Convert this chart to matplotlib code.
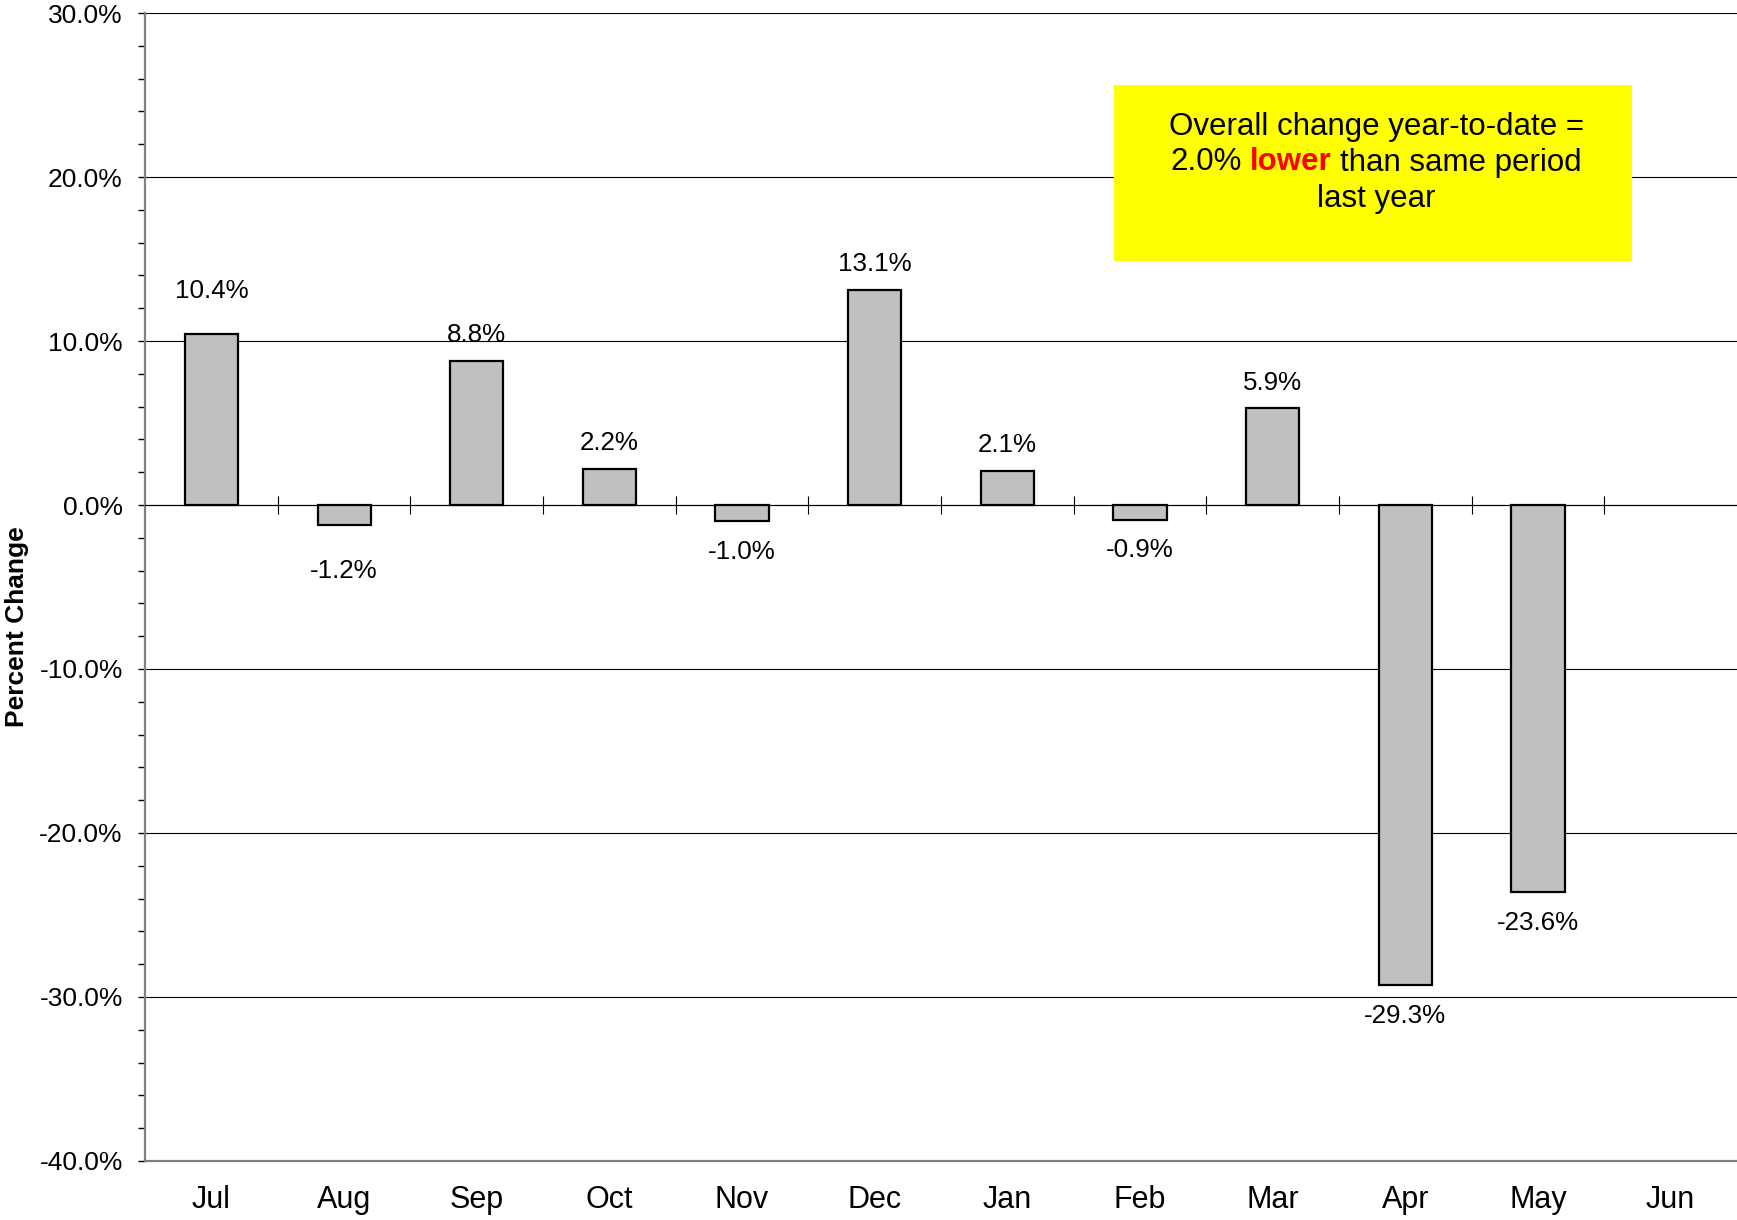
import numpy as np
import matplotlib
matplotlib.use("Agg")
import matplotlib.pyplot as plt
from matplotlib.ticker import MultipleLocator, FuncFormatter
from matplotlib.patches import Rectangle

plt.rcParams['font.family'] = ['Liberation Sans', 'DejaVu Sans']

months = ["Jul", "Aug", "Sep", "Oct", "Nov", "Dec", "Jan", "Feb", "Mar", "Apr", "May", "Jun"]
pct_change = [10.4, -1.2, 8.8, 2.2, -1.0, 13.1, 2.1, -0.9, 5.9, -29.3, -23.6, None]
# a couple of labels sit further from their bar in the original
label_offset = {0: 31.5, 1: 33.5}
note_line1 = "Overall change year-to-date ="
note_line2 = [("2.0%", "black", "normal"), ("lower", "red", "bold"), ("than same period", "black", "normal")]
note_line3 = "last year"

fig = plt.figure(figsize=(17.37, 12.2), dpi=100)
ax = fig.add_axes([0.0835, 0.0484, 0.9165, 0.9409])

x = np.arange(len(months))
vals = [v if v is not None else 0 for v in pct_change]
ax.bar(x[:-1], vals[:-1], width=0.4, color="#C0C0C0", edgecolor="black", linewidth=1.6, zorder=3)

for i, v in enumerate(pct_change):
    if v is None:
        continue
    off = label_offset.get(i, 18.5 if v >= 0 else 22)
    ax.annotate(f"{v:.1f}%", xy=(i, v), xytext=(0, off if v >= 0 else -off),
                textcoords="offset points", ha="center", va="center", fontsize=18.7, zorder=4)

ax.set_xlim(-0.5, len(months) - 0.5)
ax.set_ylim(-40, 30)
ax.yaxis.set_major_locator(MultipleLocator(10))
ax.yaxis.set_minor_locator(MultipleLocator(2))
ax.yaxis.set_major_formatter(FuncFormatter(lambda v, p: f"{v:.1f}%"))
ax.yaxis.grid(True, which="major", color="black", linewidth=0.8)
ax.set_axisbelow(True)

ax.set_xticks(x)
ax.set_xticklabels(months)
ax.set_xticks(x[:-1] + 0.5, minor=True)
ax.tick_params(axis="x", which="major", bottom=True, top=False, length=0, pad=17, labelsize=22)
ax.tick_params(axis="x", which="minor", bottom=False, top=True, direction="inout", length=13, width=0.8)
ax.tick_params(axis="y", which="major", labelsize=19, length=5, width=1, pad=11)
ax.tick_params(axis="y", which="minor", length=5, width=1)

ax.spines["top"].set_position(("data", 0))
ax.spines["top"].set_linewidth(0.8)
ax.spines["right"].set_visible(False)
for s in ("left", "bottom"):
    ax.spines[s].set_color("#808080")
    ax.spines[s].set_linewidth(1.6)

fig.text(0.0098, 0.486, "Percent Change", rotation=90, fontsize=19, fontweight="bold",
         ha="center", va="center")

# yellow note box
fig.patches.append(Rectangle((0.6413, 0.786), 0.298, 0.1443, transform=fig.transFigure,
                             facecolor="yellow", edgecolor="none", zorder=5))
cx = 0.7922
fs = 22.5
fig.text(cx, 1 - 126.5 / 1220, note_line1, fontsize=fs, ha="center", va="center", zorder=6)
fig.text(cx, 1 - 198.5 / 1220, note_line3, fontsize=fs, ha="center", va="center", zorder=6)

renderer = fig.canvas.get_renderer()
y2 = 1 - 162.5 / 1220
pieces = [fig.text(0, y2, t, color=c, fontweight=w, fontsize=fs, ha="left", va="center", zorder=6)
          for t, c, w in note_line2]
probe_a = fig.text(0, 0, "xx", fontsize=fs)
probe_b = fig.text(0, 0, "x x", fontsize=fs)
space = (probe_b.get_window_extent(renderer).width - probe_a.get_window_extent(renderer).width)
probe_a.remove()
probe_b.remove()
widths = [p.get_window_extent(renderer).width for p in pieces]
total = sum(widths) + space * (len(pieces) - 1)
start = cx * fig.bbox.width - total / 2
for p, w in zip(pieces, widths):
    p.set_x(start / fig.bbox.width)
    start += w + space

fig.savefig("out.png", dpi=100)
